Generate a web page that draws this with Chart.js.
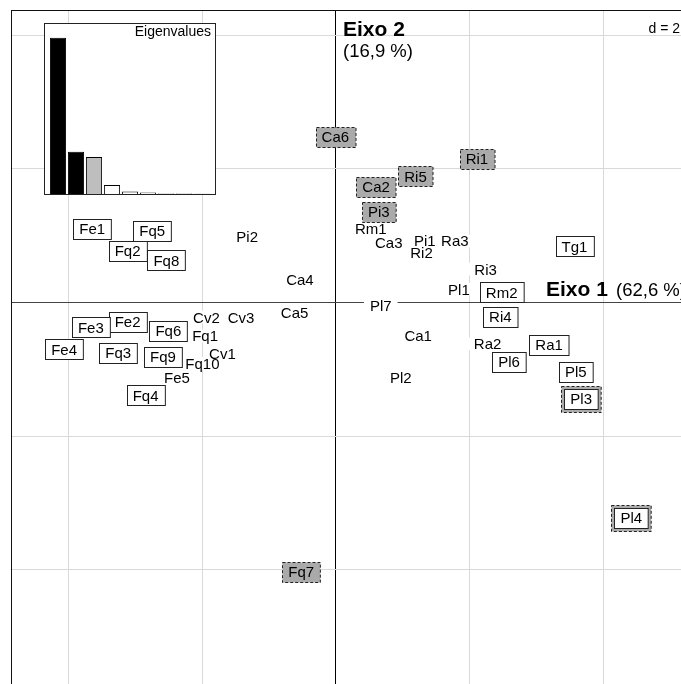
<!DOCTYPE html>
<html>
<head>
<meta charset="utf-8">
<script src="https://cdn.jsdelivr.net/npm/chart.js@4.4.1/dist/chart.umd.min.js"></script>
<style>
  body { margin: 0; background: #fff; }
  #wrap { position: relative; width: 681px; height: 684px; overflow: hidden; }
  #main { position: absolute; left: 0; top: 0; }
  #eig { position: absolute; left: 44px; top: 23px; }
</style>
</head>
<body>
<div id="wrap">
  <canvas id="main" width="681" height="684"></canvas>
  <canvas id="eig" width="172" height="172"></canvas>
</div>
<script>
// sample scores on the first two axes
const labelNames = ['Fe1','Fe2','Fe3','Fe4','Fe5','Fq1','Fq2','Fq3','Fq4','Fq5','Fq6','Fq7','Fq8','Fq9','Fq10',
  'Cv1','Cv2','Cv3','Ca1','Ca2','Ca3','Ca4','Ca5','Ca6','Pi1','Pi2','Pi3','Rm1','Rm2',
  'Ri1','Ri2','Ri3','Ri4','Ri5','Ra1','Ra2','Ra3','Pl1','Pl2','Pl3','Pl4','Pl5','Pl6','Pl7','Tg1'];
const axis1 = [-3.65,-3.12,-3.67,-4.07,-2.38,-1.96,-3.12,-3.26,-2.85,-2.75,-2.51,-0.52,-2.54,-2.59,-2.00,
  -1.70,-1.94,-1.42,1.23,0.60,0.79,-0.54,-0.62,-0.01,1.33,-1.33,0.64,0.52,2.48,
  2.11,1.28,2.24,2.46,1.19,3.19,2.27,1.78,1.84,0.97,3.67,4.42,3.59,2.59,0.67,3.57];
const axis2 = [1.10,-0.29,-0.37,-0.70,-1.12,-0.50,0.77,-0.75,-1.39,1.07,-0.42,-4.03,0.63,-0.81,-0.91,
  -0.76,-0.22,-0.22,-0.50,1.73,0.90,0.35,-0.15,2.48,0.92,0.98,1.36,1.10,0.15,
  2.15,0.75,0.50,-0.21,1.89,-0.63,-0.62,0.92,0.20,-1.13,-1.44,-3.22,-1.04,-0.89,-0.05,0.84];

// which labels get which kind of box
const boxedLabels = ['Fe1','Fe2','Fe3','Fe4','Fq2','Fq3','Fq4','Fq5','Fq6','Fq8','Fq9','Rm2','Ri4','Ra1','Pl5','Pl6','Tg1'];
const greyLabels = ['Fq7','Ca2','Ca6','Pi3','Ri1','Ri5'];
const doubleLabels = ['Pl3','Pl4'];

// eigenvalues (% of inertia)
const eigenvalues = [62.6, 16.9, 14.8, 3.6, 1.0, 0.6, 0.2, 0.2, 0.1];
const eigColors = ['#000000','#000000','#bebebe','#ffffff','#ffffff','#ffffff','#ffffff','#ffffff','#ffffff'];

const FONT = '"Liberation Sans", Arial, sans-serif';

const points = labelNames.map((n, i) => ({ x: axis1[i], y: axis2[i], name: n }));

// draws the labels centred on each point
const labelPlugin = {
  id: 'labelPlugin',
  afterDatasetsDraw(chart) {
    const ctx = chart.ctx;
    const meta = chart.getDatasetMeta(0);
    ctx.save();
    const capH = 10.8;

    // axis titles
    ctx.fillStyle = '#000';
    ctx.textAlign = 'left';
    ctx.textBaseline = 'alphabetic';
    ctx.font = 'bold 21px ' + FONT;
    ctx.fillText('Eixo 2', 343, 36);
    ctx.fillText('Eixo 1', 546, 296);
    ctx.font = '18.5px ' + FONT;
    ctx.fillText('(16,9 %)', 343, 57);
    ctx.fillText('(62,6 %)', 616, 296);
    ctx.font = '14px ' + FONT;
    ctx.textAlign = 'right';
    ctx.fillText('d = 2', 680, 33);

    ctx.font = '15px ' + FONT;
    ctx.textAlign = 'center';

    // white background under the plain labels first
    meta.data.forEach((el, i) => {
      const name = points[i].name;
      if (boxedLabels.includes(name) || greyLabels.includes(name) || doubleLabels.includes(name)) return;
      const w = ctx.measureText(name).width;
      ctx.fillStyle = '#fff';
      ctx.fillRect(el.x - w / 2 - 6, el.y - capH / 2 - 1, w + 12, capH + 2);
    });

    meta.data.forEach((el, i) => {
      const name = points[i].name;
      const w = ctx.measureText(name).width;
      const bw = w + 12, bh = 20;
      const x0 = Math.round(el.x - bw / 2) + 0.5;
      const y0 = Math.round(el.y - bh / 2) + 0.5;
      if (doubleLabels.includes(name)) {
        ctx.fillStyle = '#aaaaaa';
        ctx.fillRect(x0 - 3, y0 - 3, bw + 6, bh + 6);
        ctx.setLineDash([3, 2]);
        ctx.strokeStyle = '#222';
        ctx.lineWidth = 1;
        ctx.strokeRect(x0 - 3, y0 - 3, bw + 6, bh + 6);
        ctx.setLineDash([]);
        ctx.fillStyle = '#fff';
        ctx.fillRect(x0, y0, bw, bh);
        ctx.strokeRect(x0, y0, bw, bh);
      } else if (greyLabels.includes(name)) {
        ctx.fillStyle = '#aaaaaa';
        ctx.fillRect(x0, y0, bw, bh);
        ctx.setLineDash([3, 2]);
        ctx.strokeStyle = '#222';
        ctx.lineWidth = 1;
        ctx.strokeRect(x0, y0, bw, bh);
        ctx.setLineDash([]);
      } else if (boxedLabels.includes(name)) {
        ctx.fillStyle = '#fff';
        ctx.fillRect(x0, y0, bw, bh);
        ctx.strokeStyle = '#222';
        ctx.lineWidth = 1;
        ctx.strokeRect(x0, y0, bw, bh);
      }
      ctx.fillStyle = '#000';
      ctx.fillText(name, el.x, el.y + capH / 2);
    });

    // frame: left and top border
    ctx.fillStyle = '#111';
    ctx.fillRect(11, 10, 1, chart.height - 10);
    ctx.fillRect(11, 10, chart.width - 11, 1);
    ctx.restore();
  }
};

new Chart(document.getElementById('main'), {
  type: 'scatter',
  data: {
    datasets: [{ data: points, pointRadius: 0, pointHoverRadius: 0 }]
  },
  options: {
    responsive: false,
    animation: false,
    events: [],
    layout: { padding: { left: 11, top: 10, right: 0, bottom: 0 } },
    plugins: { legend: { display: false }, tooltip: { enabled: false } },
    scales: {
      x: {
        type: 'linear', min: -4.865, max: 5.165,
        afterFit: s => { s.height = 0; },
        border: { display: false },
        ticks: { display: false, stepSize: 2, includeBounds: false },
        grid: { drawTicks: false, lineWidth: 1, color: c => (c.tick && c.tick.value === 0) ? '#000' : '#d9d9d9' }
      },
      y: {
        type: 'linear', min: -5.711, max: 4.379,
        afterFit: s => { s.width = 0; },
        border: { display: false },
        ticks: { display: false, stepSize: 2, includeBounds: false },
        grid: { drawTicks: false, lineWidth: 1, color: c => (c.tick && c.tick.value === 0) ? '#444' : '#d9d9d9' }
      }
    }
  },
  plugins: [labelPlugin]
});

// inset with the eigenvalue bar chart
const insetPlugin = {
  id: 'insetPlugin',
  beforeDraw(chart) {
    const ctx = chart.ctx;
    ctx.save();
    ctx.fillStyle = '#fff';
    ctx.fillRect(0, 0, chart.width, chart.height);
    ctx.restore();
  },
  afterDraw(chart) {
    const ctx = chart.ctx;
    ctx.save();
    ctx.strokeStyle = '#222';
    ctx.lineWidth = 1;
    ctx.strokeRect(0.5, 0.5, chart.width - 1, chart.height - 1);
    ctx.font = '14px ' + FONT;
    ctx.fillStyle = '#000';
    ctx.textAlign = 'right';
    ctx.fillText('Eigenvalues', 167, 13);
    ctx.restore();
  }
};

new Chart(document.getElementById('eig'), {
  type: 'bar',
  data: {
    labels: eigenvalues.map((v, i) => String(i + 1)),
    datasets: [{
      data: eigenvalues,
      backgroundColor: eigColors,
      borderColor: '#000',
      borderWidth: 1,
      barPercentage: 0.9,
      categoryPercentage: 1
    }]
  },
  options: {
    responsive: false,
    animation: false,
    events: [],
    layout: { padding: { left: 5, right: 5, top: 0, bottom: 1 } },
    plugins: { legend: { display: false }, tooltip: { enabled: false } },
    scales: {
      x: { display: false },
      y: { display: false, min: 0, max: 68.5 }
    }
  },
  plugins: [insetPlugin]
});
</script>
</body>
</html>
